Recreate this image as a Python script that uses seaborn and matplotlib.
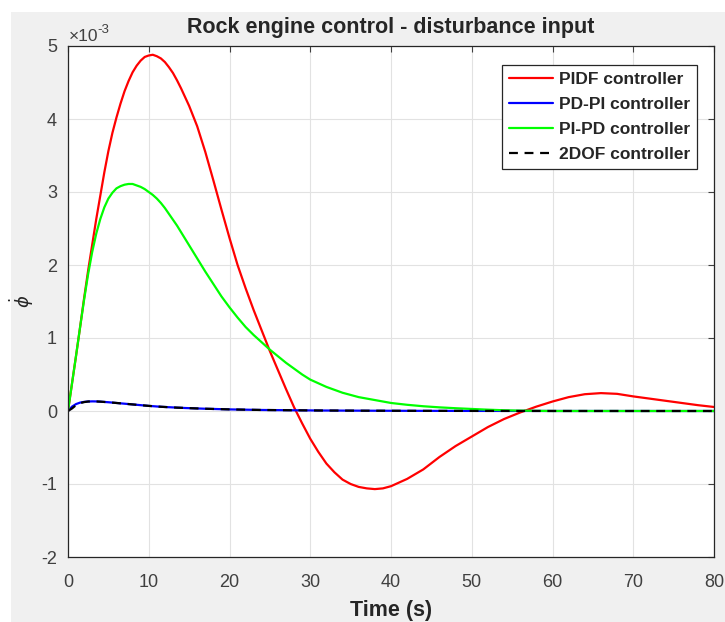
import numpy as np
import pandas as pd
import seaborn as sns
import matplotlib.pyplot as plt
from matplotlib.patches import Rectangle
from matplotlib.ticker import FuncFormatter

# time grid (s)
time_s = [0, 0.5, 1, 1.5, 2, 2.5, 3, 3.5, 4, 4.5, 5, 5.5, 6, 6.5, 7, 7.5, 8, 8.5,
          9, 9.5, 10, 10.5, 11, 11.5, 12, 12.5, 13, 13.5, 14, 14.5, 15, 15.5, 16,
          17, 18, 19, 20, 21, 22, 23, 24, 25, 26, 27, 28,
          29, 30, 31, 32, 33, 34, 35, 36, 37, 38, 39, 40,
          42, 44, 46, 48, 50, 52, 54, 56, 58, 60, 62, 64, 66, 68, 70, 72, 74, 76, 78, 80]

# responses, in units of 1e-3
pidf = [0, 0.38, 0.76, 1.15, 1.55, 1.93, 2.28, 2.63, 2.95, 3.27, 3.56, 3.81, 4.02,
        4.21, 4.38, 4.52, 4.64, 4.73, 4.80, 4.85, 4.87, 4.88, 4.86, 4.83, 4.78,
        4.71, 4.63, 4.53, 4.42, 4.30, 4.18, 4.04, 3.90,
        3.55, 3.16, 2.76, 2.37, 2.00, 1.68, 1.38, 1.10, 0.82, 0.56, 0.30, 0.05,
        -0.17, -0.38, -0.56, -0.72, -0.84, -0.94, -1.00, -1.04, -1.06, -1.07, -1.06, -1.03,
        -0.93, -0.80, -0.63, -0.48, -0.35, -0.22, -0.11, -0.02, 0.06, 0.13, 0.19,
        0.23, 0.245, 0.235, 0.20, 0.17, 0.14, 0.11, 0.08, 0.055]

pi_pd = [0, 0.38, 0.76, 1.15, 1.53, 1.88, 2.18, 2.43, 2.63, 2.79, 2.91, 2.99, 3.05,
         3.08, 3.10, 3.11, 3.11, 3.09, 3.07, 3.04, 3.00, 2.96, 2.91, 2.85, 2.78,
         2.70, 2.62, 2.54, 2.45, 2.36, 2.27, 2.18, 2.09,
         1.91, 1.74, 1.57, 1.42, 1.28, 1.15, 1.04, 0.94, 0.84, 0.75, 0.66, 0.58,
         0.50, 0.43, 0.38, 0.33, 0.29, 0.25, 0.22, 0.19, 0.17, 0.15, 0.13, 0.11,
         0.085, 0.065, 0.05, 0.038, 0.028, 0.018, 0.01, 0.005, 0.002, 0, 0, 0, 0,
         0, 0, 0, 0, 0, 0, 0]

pd_pi = [0, 0.06, 0.095, 0.115, 0.125, 0.13, 0.132, 0.131, 0.128, 0.124, 0.12,
         0.115, 0.11, 0.105, 0.10, 0.095, 0.09, 0.085, 0.08, 0.075, 0.07, 0.066,
         0.062, 0.058, 0.055, 0.052, 0.049, 0.046, 0.044, 0.041, 0.039, 0.037, 0.035,
         0.031, 0.028, 0.025, 0.022, 0.02, 0.018, 0.016, 0.014, 0.013, 0.012, 0.011,
         0.01, 0.009, 0.008, 0.007, 0.0065, 0.006, 0.0055, 0.005, 0.0045, 0.004,
         0.0037, 0.0034, 0.003,
         0.0025, 0.002, 0.0017, 0.0014, 0.0012, 0.001, 0.0008, 0.0006, 0.0005,
         0.0004, 0.0003, 0.0002, 0.0002, 0.0001, 0.0001, 0, 0, 0, 0, 0]

dof2 = [0, 0.035, 0.08, 0.108, 0.122, 0.13, 0.132, 0.131, 0.128, 0.124, 0.12,
        0.115, 0.11, 0.105, 0.10, 0.095, 0.09, 0.085, 0.08, 0.075, 0.07, 0.066,
        0.062, 0.058, 0.055, 0.052, 0.049, 0.046, 0.044, 0.041, 0.039, 0.037, 0.035,
        0.031, 0.028, 0.025, 0.022, 0.02, 0.018, 0.016, 0.014, 0.013, 0.012, 0.011,
        0.01, 0.009, 0.008, 0.007, 0.0065, 0.006, 0.0055, 0.005, 0.0045, 0.004,
        0.0037, 0.0034, 0.003,
        0.0025, 0.002, 0.0017, 0.0014, 0.0012, 0.001, 0.0008, 0.0006, 0.0005,
        0.0004, 0.0003, 0.0002, 0.0002, 0.0001, 0.0001, 0, 0, 0, 0, 0]

labels = ['PIDF controller', 'PD-PI controller', 'PI-PD controller', '2DOF controller']
colors = ['#ff0000', '#0000ff', '#00ff00', '#000000']
x_ticks = [0, 10, 20, 30, 40, 50, 60, 70, 80]
y_ticks = [-2, -1, 0, 1, 2, 3, 4, 5]  # x 1e-3

frames = []
for lab, vals in zip(labels, [pidf, pd_pi, pi_pd, dof2]):
    frames.append(pd.DataFrame({'t': time_s, 'y': np.array(vals) * 1e-3, 'ctrl': lab}))
df = pd.concat(frames, ignore_index=True)

sns.set_style('white')
plt.rcParams['font.family'] = ['Liberation Sans', 'DejaVu Sans']
plt.rcParams['axes.unicode_minus'] = False

fig = plt.figure(figsize=(7.25, 6.22), dpi=100, facecolor='white')
fig.patches.append(Rectangle((11 / 725, 0), 1, 1 - 12 / 622, transform=fig.transFigure,
                             facecolor='#f0f0f0', edgecolor='none', zorder=-10))
ax = fig.add_axes([68 / 725, 65 / 622, 646 / 725, 511 / 622])
ax.set_facecolor('white')

for lab, col in zip(labels, colors):
    sub = df[df['ctrl'] == lab]
    ls = (0, (4, 3)) if lab.startswith('2DOF') else '-'
    sns.lineplot(data=sub, x='t', y='y', ax=ax, color=col, lw=1.6, linestyle=ls,
                 label=lab, sort=False, estimator=None)

ax.set_xlim(0, 80)
ax.set_ylim(-0.002, 0.005)
ax.set_xticks(x_ticks)
ax.set_yticks([v * 1e-3 for v in y_ticks])
ax.yaxis.set_major_formatter(FuncFormatter(lambda v, p: f'{round(v * 1e3):d}'))

# MATLAB-style exponent label
fig.text(69 / 725, 1 - 44 / 622, '×10', fontsize=12.5, color='#404040',
         ha='left', va='bottom')
fig.text(97 / 725, 1 - 36 / 622, '-3', fontsize=9.5, color='#404040',
         ha='left', va='bottom')

ax.grid(True, color='#e2e2e2', lw=0.8)
ax.tick_params(direction='in', length=4, top=True, right=True, labelsize=13,
               colors='#404040', width=0.8)
ax.tick_params(axis='x', pad=12)
ax.tick_params(axis='y', pad=8)
for s in ax.spines.values():
    s.set_color('#262626')
    s.set_linewidth(0.9)

ax.set_title('Rock engine control - disturbance input', fontsize=15.5,
             fontweight='bold', pad=9)
ax.set_xlabel('Time (s)', fontsize=15.5, fontweight='bold', labelpad=7, color='#262626')
ax.set_ylabel(r'$\dot{\phi}$', fontsize=13)
ax.yaxis.set_label_coords(-0.05, 0.5)

leg = ax.legend(loc='upper right', bbox_to_anchor=(0.974, 0.963), borderaxespad=0,
                fancybox=False, edgecolor='#262626', framealpha=1,
                prop={'weight': 'bold', 'size': 12.5}, handlelength=2.5,
                labelspacing=0.56, borderpad=0.42, handletextpad=0.35)
leg.get_frame().set_linewidth(0.9)

fig.savefig('out.png', dpi=100, facecolor=fig.get_facecolor())
